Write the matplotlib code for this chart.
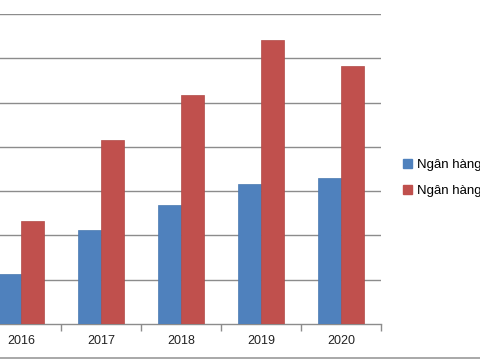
import matplotlib
matplotlib.use("Agg")
import matplotlib.pyplot as plt
from matplotlib.patches import Patch
from matplotlib.lines import Line2D
import numpy as np

plt.rcParams['font.family'] = ['Liberation Sans', 'DejaVu Sans']

years = ["2016", "2017", "2018", "2019", "2020"]
bank_a = [1.14, 2.13, 2.68, 3.17, 3.29]
bank_b = [2.32, 4.16, 5.18, 6.42, 5.83]
labels = ["Ngân hàng", "Ngân hàng"]

blue = "#4F81BD"
red = "#C0504D"
grid_col = "#8c8c8c"

fig = plt.figure(figsize=(4.8, 3.6), dpi=100)
ax = fig.add_axes([-19 / 480, 36 / 360, 400 / 480, 310 / 360])

x = np.arange(len(years))
w = 0.2875
ax.bar(x - w / 2, bank_a, w, color=blue, edgecolor="#4a79b0", linewidth=0.5, zorder=3)
ax.bar(x + w / 2, bank_b, w, color=red, edgecolor="#b04a47", linewidth=0.5, zorder=3)

ax.set_xlim(-0.5, len(years) - 0.5)
ax.set_ylim(0, 7)
ax.set_yticks(np.arange(1, 8))
ax.yaxis.grid(True, color=grid_col, linewidth=1.0, zorder=0)
ax.tick_params(axis="y", length=0, labelleft=False)

ax.set_xticks(x)
ax.set_xticklabels(years, fontsize=9, color="#222222")
ax.set_xticks(np.arange(-0.5, len(years)), minor=True)
ax.tick_params(axis="x", which="major", length=0, pad=8)
ax.tick_params(axis="x", which="minor", length=5, width=1, color=grid_col, direction="out")

for s in ["top", "right", "left"]:
    ax.spines[s].set_visible(False)
ax.spines["bottom"].set_color(grid_col)
ax.spines["bottom"].set_linewidth(1.0)

handles = [Patch(facecolor=blue, edgecolor=blue), Patch(facecolor=red, edgecolor=red)]
fig.legend(handles, labels, loc="upper left", bbox_to_anchor=(403 / 480, 1 - 159 / 360),
           bbox_transform=fig.transFigure, frameon=False, fontsize=9.5,
           handlelength=0.65, handleheight=0.65, handletextpad=0.4,
           labelspacing=1.05, borderpad=0, borderaxespad=0)

fig.add_artist(Line2D([0, 1], [1 - 357.5 / 360] * 2, color="#9a9a9a", linewidth=1.2,
                      transform=fig.transFigure))

fig.savefig("out.png", dpi=100)
